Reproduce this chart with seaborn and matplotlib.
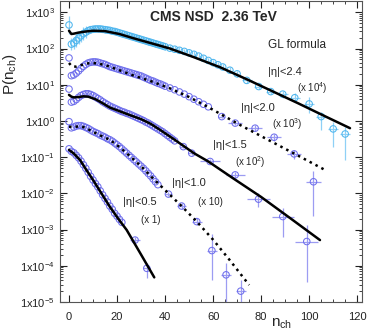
import numpy as np
import pandas as pd
import matplotlib
matplotlib.use('Agg')
import matplotlib.pyplot as plt
import seaborn as sns
from matplotlib.ticker import FixedLocator, FuncFormatter, MultipleLocator, NullFormatter

# ---- data (log10 of P as plotted, i.e. already multiplied by the scale factor)
# |eta|<0.5  (x 1)
eta05_n = np.arange(0, 23)
eta05_lp = [-0.77, -0.84, -0.88, -0.95, -1.02, -1.11, -1.21, -1.31, -1.42, -1.53, -1.63, -1.73,
            -1.82, -1.93, -2.04, -2.14, -2.24, -2.35, -2.44, -2.55, -2.63, -2.72, -2.80]
eta05_tail_n = [27.5, 32.4]
eta05_tail_lp = [-3.29, -4.07]
eta05_tail_lo = [0.08, 0.27]
eta05_tail_hi = [0.08, 0.15]
eta05_tail_xe = [2.0, 1.5]
eta05_fit_n = [0, 2, 4.6, 7, 10, 13.5, 17, 20.5, 24, 30, 35.5]
eta05_fit_lp = [-0.80, -0.90, -1.08, -1.33, -1.63, -2.00, -2.37, -2.70, -3.01, -3.69, -4.32]

# |eta|<1.0  (x 10)
eta10_n = np.arange(0, 38)
eta10_lp = [-0.02, -0.19, -0.17, -0.14, -0.13, -0.13, -0.15, -0.18, -0.21, -0.25, -0.29, -0.32,
            -0.35, -0.39, -0.42, -0.45, -0.49, -0.52, -0.56, -0.61, -0.66, -0.71, -0.77, -0.83,
            -0.89, -0.95, -1.01, -1.07, -1.13, -1.19, -1.25, -1.31, -1.38, -1.45, -1.52, -1.60,
            -1.68, -1.76]
eta10_tail_n = [41.4, 46.9, 53.2, 59.5, 65.4, 71.5]
eta10_tail_lp = [-2.02, -2.35, -2.78, -3.58, -4.25, -4.70]
eta10_tail_lo = [0.06, 0.07, 0.10, 0.80, 1.00, 0.60]
eta10_tail_hi = [0.06, 0.07, 0.10, 0.45, 0.33, 0.30]
eta10_tail_xe = [1.5, 2.0, 2.0, 2.0, 2.0, 2.0]
eta10_fit_n = [0, 2, 4, 6, 8, 10, 13, 17, 21, 25, 30, 34.4, 41.4, 47, 53.2, 60, 67, 75]
eta10_fit_lp = [-0.16, -0.17, -0.15, -0.17, -0.23, -0.30, -0.40, -0.52, -0.72, -0.95, -1.25,
                -1.55, -2.00, -2.36, -2.78, -3.28, -3.85, -4.53]

# |eta|<1.5  (x 10^2)
eta15_n = np.arange(0, 45)
eta15_lp = [0.88, 0.52, 0.54, 0.59, 0.65, 0.70, 0.73, 0.75, 0.75, 0.73, 0.70, 0.66, 0.62, 0.58,
            0.53, 0.49, 0.45, 0.41, 0.38, 0.35, 0.32, 0.29, 0.26, 0.24, 0.21, 0.19, 0.16, 0.13,
            0.10, 0.07, 0.04, 0.01, -0.03, -0.06, -0.10, -0.14, -0.18, -0.22, -0.26, -0.30,
            -0.35, -0.40, -0.45, -0.50, -0.55]
eta15_tail_n = [47.6, 51.1, 58.75, 69.2, 78.9, 89.0, 99.0]
eta15_tail_lp = [-0.71, -0.89, -1.12, -1.49, -2.16, -2.64, -3.33]
eta15_tail_lo = [0.05, 0.05, 0.07, 0.08, 0.22, 0.56, 1.12]
eta15_tail_hi = [0.05, 0.05, 0.07, 0.08, 0.17, 0.24, 0.46]
eta15_tail_xe = [1.5, 1.5, 4.2, 4.0, 4.6, 4.5, 4.8]
eta15_fit_n = [0, 1, 2, 4, 6, 8, 11, 14, 17, 21, 25, 30, 34, 38, 44, 52, 58, 68, 80, 92, 104.5]
eta15_fit_lp = [0.72, 0.67, 0.65, 0.66, 0.68, 0.67, 0.60, 0.49, 0.37, 0.27, 0.17, 0.05, -0.08,
                -0.25, -0.52, -0.89, -1.12, -1.57, -2.10, -2.68, -3.29]

# |eta|<2.0  (x 10^3)
eta20_n = list(range(0, 41)) + [42, 44, 46, 48, 50, 52, 54, 56, 58]
eta20_lp = [1.74, 1.25, 1.27, 1.32, 1.38, 1.45, 1.51, 1.56, 1.60, 1.62, 1.63, 1.63, 1.62, 1.60,
            1.58, 1.56, 1.53, 1.50, 1.48, 1.46, 1.44, 1.42, 1.40, 1.38, 1.36, 1.34, 1.32, 1.30,
            1.28, 1.26, 1.24, 1.21, 1.18, 1.15, 1.12, 1.10, 1.07, 1.04, 1.02, 0.99, 0.96,
            0.91, 0.86, 0.80, 0.74, 0.67, 0.60, 0.53, 0.46, 0.39]
eta20_tail_n = [63.6, 69.2, 77.5, 85.4, 93.75, 101.8]
eta20_tail_lp = [0.12, -0.06, -0.20, -0.45, -0.91, -1.68]
eta20_tail_lo = [0.05, 0.06, 0.08, 0.10, 0.15, 0.95]
eta20_tail_hi = [0.05, 0.06, 0.08, 0.10, 0.12, 0.30]
eta20_tail_xe = [1.5, 3.0, 3.0, 3.0, 3.0, 3.0]
eta20_fit_n = [0, 1, 2, 3, 5, 7, 9, 12, 16, 21, 27, 34, 42, 50, 58, 65, 72, 80, 88, 96, 106.5]
eta20_fit_lp = [1.60, 1.52, 1.50, 1.50, 1.54, 1.58, 1.60, 1.59, 1.52, 1.40, 1.25, 1.10, 0.90,
                0.66, 0.38, 0.12, -0.14, -0.42, -0.70, -0.98, -1.35]

# |eta|<2.4  (x 10^4)
eta24_n = list(range(0, 41)) + [42, 44, 46, 48, 50, 52, 54, 56, 58, 60, 62, 64, 67, 70]
eta24_lp = [2.65, 2.12, 2.15, 2.22, 2.29, 2.35, 2.41, 2.45, 2.49, 2.52, 2.53, 2.54, 2.54, 2.54,
            2.53, 2.52, 2.51, 2.50, 2.48, 2.47, 2.45, 2.43, 2.41, 2.39, 2.37, 2.35, 2.33, 2.31,
            2.29, 2.27, 2.25, 2.23, 2.21, 2.19, 2.17, 2.15, 2.13, 2.11, 2.09, 2.07, 2.05,
            2.01, 1.98, 1.95, 1.92, 1.88, 1.84, 1.79, 1.73, 1.67, 1.61, 1.55, 1.49, 1.40, 1.30]
eta24_err = [0.25] + [0.17] * 7 + [0.08] * 47
eta24_tail_n = [74, 79, 84, 89, 94, 100, 105, 110, 115]
eta24_tail_lp = [1.12, 0.95, 0.81, 0.74, 0.64, 0.47, 0.12, -0.22, -0.36]
eta24_tail_lo = [0.06, 0.07, 0.08, 0.10, 0.12, 0.25, 0.37, 0.49, 0.72]
eta24_tail_hi = [0.06, 0.07, 0.08, 0.10, 0.12, 0.20, 0.14, 0.20, 0.20]
eta24_tail_xe = [2.0, 2.0, 2.0, 2.0, 2.0, 2.0, 2.0, 2.0, 2.0]
eta24_fit_n = [0, 1, 2, 4, 7, 10, 15, 21, 27, 34, 42, 52, 63, 75, 85, 95, 105, 117]
eta24_fit_lp = [2.49, 2.40, 2.41, 2.44, 2.47, 2.49, 2.48, 2.40, 2.28, 2.15, 2.00, 1.76, 1.48,
                1.12, 0.81, 0.50, 0.18, -0.20]

y_ticks = [1e-5, 1e-4, 1e-3, 1e-2, 1e-1, 1e0, 1e1, 1e2, 1e3]

purple = '#6f6fec'
purple_err = '#9c9cf2'
cyan = '#4fb6ee'
cyan_err = '#8fd0f6'

sns.set_style('ticks')
plt.rcParams['font.family'] = ['Liberation Sans', 'DejaVu Sans']
plt.rcParams['mathtext.fontset'] = 'custom'
plt.rcParams['mathtext.rm'] = 'Liberation Sans'
plt.rcParams['mathtext.it'] = 'Liberation Sans'

fig = plt.figure(figsize=(3.71, 3.35), dpi=100)
ax = fig.add_axes([60 / 371, 33 / 335, 302 / 371, 301 / 335])


def draw_points(n, lp, col, ecol, err=None):
    p = np.power(10.0, lp)
    if err is not None:
        e = np.array(err)
        ax.errorbar(n, p, yerr=[p - p / 10 ** e, p * 10 ** e - p], fmt='none',
                    ecolor=ecol, elinewidth=0.9, capsize=0, zorder=2)
    df = pd.DataFrame({'n': n, 'p': p})
    sns.scatterplot(data=df, x='n', y='p', ax=ax, marker='o', s=22, facecolors='none',
                    edgecolor=col, linewidth=0.75, zorder=3)


def draw_tail(n, lp, lo, hi, xe, col, ecol):
    p = np.power(10.0, lp)
    lo = np.array(lo)
    hi = np.array(hi)
    ax.errorbar(n, p, yerr=[p - p / 10 ** lo, p * 10 ** hi - p], xerr=xe, fmt='none',
                ecolor=ecol, elinewidth=0.9, capsize=0, zorder=2)
    df = pd.DataFrame({'n': n, 'p': p})
    sns.scatterplot(data=df, x='n', y='p', ax=ax, marker='o', s=22, facecolors='none',
                    edgecolor=col, linewidth=0.75, zorder=3)


def draw_fit(n, lp, style):
    df = pd.DataFrame({'n': n, 'p': np.power(10.0, lp)})
    sns.lineplot(data=df, x='n', y='p', ax=ax, color='black', linewidth=1.8,
                 linestyle=style, zorder=4, sort=False)


draw_points(eta05_n, eta05_lp, purple, purple_err)
draw_tail(eta05_tail_n, eta05_tail_lp, eta05_tail_lo, eta05_tail_hi, eta05_tail_xe, purple, purple_err)
draw_fit(eta05_fit_n, eta05_fit_lp, '-')

draw_points(eta10_n, eta10_lp, purple, purple_err)
draw_tail(eta10_tail_n, eta10_tail_lp, eta10_tail_lo, eta10_tail_hi, eta10_tail_xe, purple, purple_err)
draw_fit(eta10_fit_n, eta10_fit_lp, ':')

draw_points(eta15_n, eta15_lp, purple, purple_err)
draw_tail(eta15_tail_n, eta15_tail_lp, eta15_tail_lo, eta15_tail_hi, eta15_tail_xe, purple, purple_err)
draw_fit(eta15_fit_n, eta15_fit_lp, '-')

draw_points(eta20_n, eta20_lp, purple, purple_err)
draw_tail(eta20_tail_n, eta20_tail_lp, eta20_tail_lo, eta20_tail_hi, eta20_tail_xe, purple, purple_err)
draw_fit(eta20_fit_n, eta20_fit_lp, ':')

draw_points(eta24_n, eta24_lp, cyan, cyan_err, err=eta24_err)
draw_tail(eta24_tail_n, eta24_tail_lp, eta24_tail_lo, eta24_tail_hi, eta24_tail_xe, cyan, cyan_err)
draw_fit(eta24_fit_n, eta24_fit_lp, '-')

ax.set_yscale('log')
ax.set_xlim(-3.75, 122)
ax.set_ylim(1e-5, 2.05e3)

ax.xaxis.set_major_locator(MultipleLocator(20))
ax.xaxis.set_minor_locator(MultipleLocator(5))
minor_y = [m * t for t in y_ticks[:-1] for m in range(2, 10)] + [2e3]
ax.yaxis.set_major_locator(FixedLocator(y_ticks))
ax.yaxis.set_minor_locator(FixedLocator(minor_y))
ax.yaxis.set_minor_formatter(NullFormatter())
ax.yaxis.set_major_formatter(FuncFormatter(lambda v, pos: '1x10$^{%d}$' % round(np.log10(v))))
ax.tick_params(which='both', direction='in', top=True, right=True, labelsize=8, colors='#222222')
ax.tick_params(which='major', length=5, width=0.8)
ax.tick_params(which='minor', length=2.5, width=0.6)
ax.tick_params(axis='x', which='major', pad=7)
for sp in ax.spines.values():
    sp.set_color('#555555')
    sp.set_linewidth(0.8)

ax.set_xlabel('n$_{\\rm ch}$', fontsize=11)
ax.set_ylabel('P(n$_{\\rm ch}$)', fontsize=11)
ax.xaxis.set_label_coords(0.735, -0.05)
ax.yaxis.set_label_coords(-0.135, 0.757)


# convert pixel positions (from top-left) to figure coordinates
def ftext(x, y, s, size, **kw):
    fig.text(x / 371, 1 - y / 335, s, fontsize=size, va='center', **kw)


ftext(213, 17, 'CMS NSD  2.36 TeV', 10, fontweight='bold', ha='center')
ftext(268, 45, 'GL formula', 8.5, ha='left')
ftext(268, 72, '|η|<2.4', 8, ha='left')
ftext(297, 88, '(x 10$^4$)', 7, ha='left')
ftext(241, 108, '|η|<2.0', 8, ha='left')
ftext(272, 124, '(x 10$^3$)', 7, ha='left')
ftext(213, 145, '|η|<1.5', 8, ha='left')
ftext(235, 162, '(x 10$^2$)', 7, ha='left')
ftext(172, 183, '|η|<1.0', 8, ha='left')
ftext(198, 202, '(x 10)', 7, ha='left')
ftext(123, 202, '|η|<0.5', 8, ha='left')
ftext(141, 220, '(x 1)', 7, ha='left')

fig.savefig('out.png', dpi=100)
